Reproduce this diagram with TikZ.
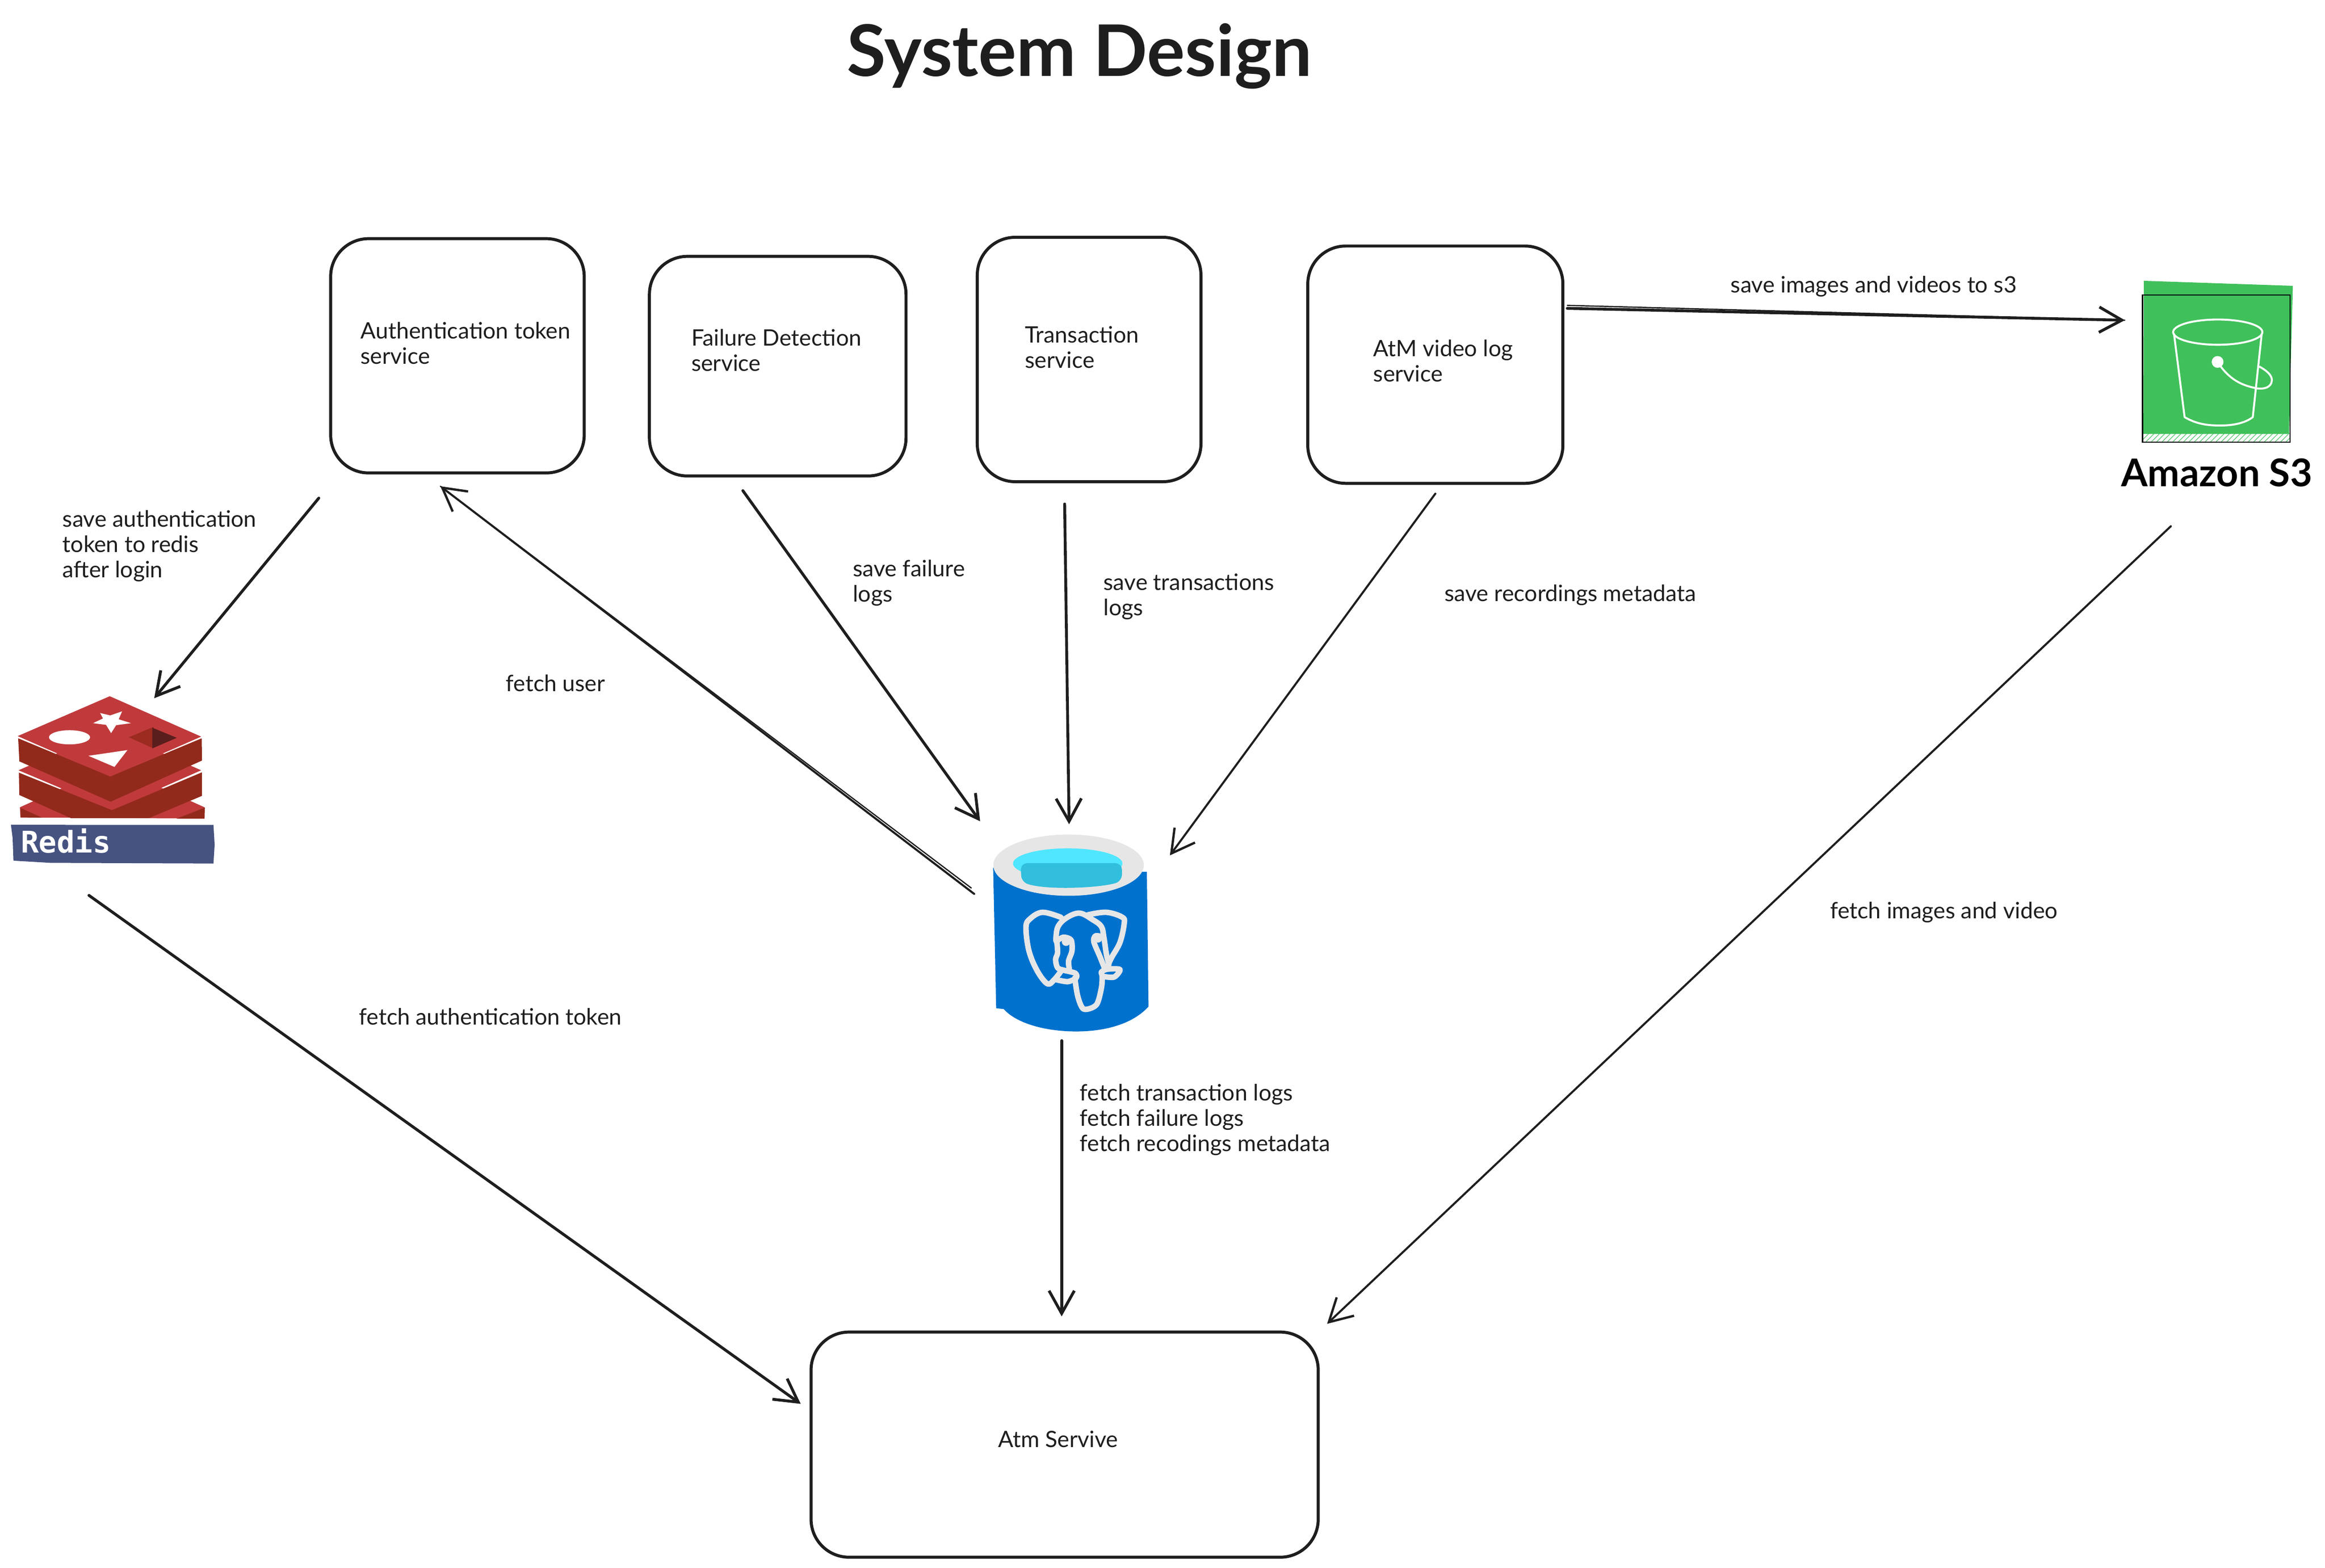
\documentclass[tikz,border=0pt]{standalone}
\usepackage{fontspec}
\setmainfont{Lato}
\newfontfamily\monof{DejaVu Sans Mono}
\usetikzlibrary{arrows.meta}
\definecolor{ink}{HTML}{1E1E1E}
\definecolor{rlight}{HTML}{C03A3C}
\definecolor{rdark}{HTML}{922A1C}
\definecolor{rmid}{HTML}{9C2B20}
\definecolor{rdeep}{HTML}{5A1E1C}
\definecolor{rband}{HTML}{465280}
\definecolor{pgblue}{HTML}{0072CE}
\definecolor{pggray}{HTML}{E6E6E6}
\definecolor{pgcyan}{HTML}{50E6FF}
\definecolor{pgcyand}{HTML}{32BEDD}
\definecolor{sgreen}{HTML}{40C05A}
\tikzset{
 svcbox/.style={draw=ink,line width=1.7pt,rounded corners=0.75cm,fill=white,inner sep=0pt},
 lbl/.style={inner sep=0pt,anchor=west,align=left,text=ink,yshift=-0.04cm,font=\fontsize{12.7pt}{14.2pt}\selectfont},
 conn/.style={draw=ink,line width=1.6pt,line cap=round,-{Straight Barb[length=0.45cm,width=0.5cm,line width=1.6pt]}},
 thinconn/.style={draw=ink,line width=1.15pt,line cap=round,-{Straight Barb[length=0.45cm,width=0.5cm,line width=1.3pt]}},
 echo/.style={draw=ink,line width=0.7pt,line cap=round},
 eleph/.style={draw=pggray,line width=3.1pt,line cap=round,line join=round},
 bucket/.style={draw=white,line width=1.1pt,line cap=round,line join=round}
}
\begin{document}
\begin{tikzpicture}[x=0.029298cm,y=-0.029298cm]
\useasboundingbox (0,0) rectangle (1568,1057.4);
\fill[white] (0,0) rectangle (1568,1057.4);

% Redis icon
\begin{scope}[shift={(0cm,-13.40cm)},x=0.003333cm,y=-0.003333cm]
 \fill[rlight] (118,768) -- (665,520) -- (1215,768) -- (1215,835) -- (122,828) -- cycle;
 \fill[rdark] (122,772) -- (250,830) -- (122,828) -- cycle;
 \fill[rdark] (1217,770) -- (1050,835) -- (1215,835) -- cycle;
 \fill[rlight] (110,548) -- (655,310) -- (1195,548) -- (665,782) -- cycle;
 \fill[rdark] (112,562) -- (665,785) -- (1200,560) -- (1200,700) -- (885,832) -- (420,832) -- (115,695) -- cycle;
 \fill[rdark] (108,358) -- (655,585) -- (1198,358) -- (1200,490) -- (657,735) -- (115,495) -- cycle;
 \fill[rlight] (105,345) -- (652,108) -- (1195,348) -- (655,585) -- cycle;
 \fill[white] (595,208) -- (655,222) -- (725,198) -- (705,245) -- (778,268) -- (690,280) -- (660,327) -- (630,278) -- (553,268) -- (612,240) -- cycle;
 \fill[white] (413,352) ellipse [x radius=122, y radius=42];
 \fill[white] (525,462) -- (757,428) -- (680,528) -- cycle;
 \fill[rmid] (765,352) -- (912,290) -- (905,415) -- cycle;
 \fill[rdeep] (905,295) -- (1050,355) -- (905,418) -- cycle;
 \fill[rband] (65,872) -- (1268,873) -- (1275,990) -- (1268,1102) -- (300,1098) -- (80,1085) -- (75,950) -- cycle;
 \node[inner sep=0pt,anchor=west,text=white,font=\monof\bfseries\fontsize{16.8pt}{18pt}\selectfont] (redislabel) at (122,968) {Redis};
\end{scope}

% PostgreSQL icon
\begin{scope}[shift={(19.20cm,-16.20cm)},x=0.003333cm,y=-0.003333cm]
 \fill[pgblue] (127,285) -- (145,1120) -- (190,1125) .. controls (270,1215) and (450,1258) .. (620,1258) .. controls (800,1258) and (960,1210) .. (1050,1110) -- (1040,310) -- cycle;
 \fill[pggray] (575,270) ellipse [x radius=447, y radius=182];
 \fill[pgcyan] (570,260) ellipse [x radius=325, y radius=90];
 \fill[pgcyand,rounded corners=0.13cm] (290,258) -- (892,258) -- (892,365) .. controls (760,405) and (450,420) .. (295,370) -- cycle;
 \draw[eleph] plot[smooth,tension=0.6] coordinates {(530,580) (420,550) (345,590) (322,640) (340,780) (390,900) (450,975) (490,950) (530,900)};
 \draw[eleph] plot[smooth,tension=0.6] coordinates {(500,720) (510,640) (560,585) (640,555) (720,595) (770,635) (785,700) (800,800) (815,860)};
 \draw[eleph] plot[smooth,tension=0.6] coordinates {(690,565) (800,550) (895,580) (905,620) (880,730) (830,820) (800,885)};
 \draw[eleph] plot[smooth,tension=0.5] coordinates {(612,940) (630,1050) (665,1125) (740,1100) (770,1000) (775,930) (770,905) (805,888) (880,890) (845,935) (775,930)};
 \draw[eleph] plot[smooth,tension=0.5] coordinates {(505,720) (545,698) (590,715) (595,780) (575,840) (580,890)};
 \draw[eleph] plot[smooth,tension=0.5] coordinates {(505,720) (510,790) (498,830) (510,880) (550,895) (615,912) (620,940) (570,962) (500,950)};
 \draw[eleph] plot[smooth,tension=0.5] coordinates {(775,695) (735,690) (725,725) (760,810) (790,885)};
 \fill[pggray] (560,725) circle [radius=25];
 \fill[pggray] (750,705) circle [radius=25];
\end{scope}

% S3 icon
\begin{scope}[shift={(41.50cm,-5.20cm)},x=0.003333cm,y=-0.003333cm]
 \fill[sgreen] (258,105) -- (1143,135) -- (1120,1015) -- (255,1015) -- cycle;
 \begin{scope}
  \clip (253,1012) rectangle (1125,1063);
  \foreach \h in {0,32,...,928} { \draw[sgreen,line width=0.3pt] (230+\h,1070) -- (300+\h,1000); }
 \end{scope}
 \draw[black,line width=0.65pt] (250,190) rectangle (1127,1065);
 \draw[bucket] (697,410) ellipse [x radius=265, y radius=75];
 \draw[bucket] (437,420) -- (500,915) .. controls (560,950) and (620,965) .. (710,965) .. controls (790,965) and (860,950) .. (905,915) -- (958,420);
 \fill[white] (696,587) circle [radius=35];
 \draw[bucket] (715,615) .. controls (780,700) and (850,730) .. (935,745) .. controls (1000,750) and (1020,720) .. (1018,690) .. controls (1015,660) and (980,635) .. (945,615);
\end{scope}

% Service boxes
\node[svcbox,minimum width=5.01cm,minimum height=4.63cm] (auth) at (308.5,240) {};
\node[svcbox,minimum width=5.07cm,minimum height=4.34cm] (fail) at (524.5,247) {};
\node[svcbox,minimum width=4.42cm,minimum height=4.83cm] (trans) at (734.5,242.5) {};
\node[svcbox,minimum width=5.04cm,minimum height=4.69cm] (video) at (968,246) {};
\node[svcbox,minimum width=10.02cm,minimum height=4.45cm] (atm) at (718,974.5) {};

% Texts
\node[inner sep=0pt,text=ink,font=\bfseries\fontsize{40pt}{42pt}\selectfont] (title) at (728,38) {System Design};
\node[inner sep=0pt,text=black,font=\bfseries\fontsize{21.5pt}{26pt}\selectfont] (s3name) at (1495,319) {Amazon S3};
\node[lbl] (tauth) at (243,230) {Authentication token\\service};
\node[lbl] (tfail) at (466,235) {Failure Detection\\service};
\node[lbl] (ttrans) at (691,233) {Transaction\\service};
\node[lbl] (tvideo) at (926,242) {AtM video log\\service};
\node[lbl] (tatm) at (673,969.5) {Atm Servive};
\node[lbl] (l1) at (1167,192) {save images and videos to s3};
\node[lbl] (l2) at (42,367) {save authentication\\token to redis\\after login};
\node[lbl] (l3) at (575,392) {save failure\\logs};
\node[lbl] (l4) at (744,401) {save transactions\\logs};
\node[lbl] (l5) at (974,400) {save recordings metadata};
\node[lbl] (l6) at (341,459.5) {fetch user};
\node[lbl] (l7) at (242,684.5) {fetch authentication token};
\node[lbl] (l8) at (1234,614) {fetch images and video};
\node[lbl] (l9) at (728,754) {fetch transaction logs\\fetch failure logs\\fetch recodings metadata};

% Connector ends
\coordinate (authOut) at (215,336);
\coordinate (redisIn) at (104,471);
\coordinate (pgOutUser) at (657,603);
\coordinate (pgOutUserB) at (655,599);
\coordinate (authIn) at (297,328);
\coordinate (failOut) at (501,331);
\coordinate (pgInFail) at (661,554);
\coordinate (transOut) at (718,340);
\coordinate (pgInTrans) at (721,556);
\coordinate (videoOut) at (968,333);
\coordinate (pgInVideo) at (789,577);
\coordinate (videoOutS) at (1057,208);
\coordinate (videoOutT) at (1057,206);
\coordinate (sIn) at (1433,216);
\coordinate (redisOut) at (60,604);
\coordinate (atmInRedis) at (540,947);
\coordinate (pgOut) at (716,702);
\coordinate (atmInPg) at (716,888);
\coordinate (sOut) at (1464,355);
\coordinate (atmInS) at (895,893);

\draw[conn] (authOut) -- (redisIn);
\draw[thinconn] (pgOutUser) -- (authIn);
\draw[echo] (pgOutUserB) -- (authIn);
\draw[conn] (failOut) -- (pgInFail);
\draw[conn] (transOut) -- (pgInTrans);
\draw[thinconn] (videoOut) -- (pgInVideo);
\draw[conn] (videoOutS) -- (sIn);
\draw[echo] (videoOutT) -- (sIn);
\draw[conn] (redisOut) -- (atmInRedis);
\draw[conn] (pgOut) -- (atmInPg);
\draw[thinconn] (sOut) -- (atmInS);
\end{tikzpicture}
\end{document}
